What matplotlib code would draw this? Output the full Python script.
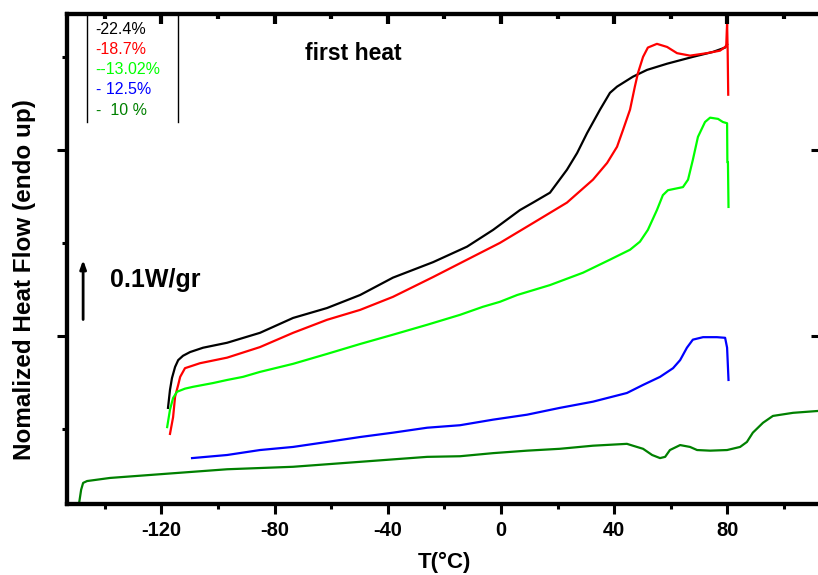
import matplotlib
matplotlib.use('Agg')
import matplotlib.pyplot as plt
import matplotlib.transforms as mtransforms
from matplotlib.ticker import MultipleLocator


# sample labels and line colours (first heat DSC scans)
labels = ['-22.4%', '-18.7%', '--13.02%', '- 12.5%', '-  10 %']
colors = ['black', 'red', '#00ff00', 'blue', 'green']

# temperature (C) / normalized heat flow (W/g, offset)
t_224 = [-117.7, -117.0, -116.3, -115.2, -114.1, -112.4, -109.9, -105.3, -96.8, -85.2,
         -73.5, -61.5, -49.8, -38.2, -24.0, -12.0, -2.8, 6.7, 11.3, 17.3,
         23.3, 26.9, 30.4, 35.0, 38.5, 41.0, 46.6, 51.6, 58.7, 67.8,
         74.9, 79.2, 79.9]
q_224 = [0.184, 0.213, 0.232, 0.250, 0.261, 0.268, 0.274, 0.281, 0.289, 0.305,
         0.329, 0.345, 0.366, 0.394, 0.419, 0.444, 0.471, 0.503, 0.515, 0.531,
         0.568, 0.595, 0.627, 0.665, 0.692, 0.702, 0.718, 0.729, 0.739, 0.750,
         0.758, 0.765, 0.770]

t_187 = [-117.0, -115.9, -115.2, -114.1, -113.4, -111.7, -106.4, -96.8, -85.2, -73.5,
         -61.5, -49.8, -38.2, -24.0, -12.0, -0.4, 11.3, 23.3, 32.5, 37.5,
         41.0, 43.1, 45.6, 47.3, 48.4, 50.2, 51.9, 55.1, 58.7, 62.2,
         66.8, 72.8, 77.4, 79.2, 79.6, 79.9, 80.1, 80.3]
q_187 = [0.142, 0.169, 0.202, 0.221, 0.234, 0.248, 0.256, 0.265, 0.282, 0.305,
         0.326, 0.342, 0.363, 0.395, 0.423, 0.450, 0.482, 0.515, 0.552, 0.579,
         0.605, 0.632, 0.665, 0.702, 0.724, 0.750, 0.765, 0.771, 0.766, 0.756,
         0.752, 0.756, 0.760, 0.766, 0.768, 0.805, 0.760, 0.689]

t_1302 = [-118.0, -117.0, -115.9, -114.5, -111.7, -108.8, -101.8, -96.8, -91.2, -85.2,
          -73.5, -61.5, -49.8, -38.2, -26.1, -14.5, -6.4, -0.4, 5.7, 17.3,
          29.0, 38.5, 45.6, 49.1, 51.9, 55.1, 57.2, 59.0, 64.3, 66.1,
          67.8, 69.6, 72.1, 73.9, 76.7, 78.4, 79.9, 80.0, 80.2, 80.4]
q_1302 = [0.153, 0.181, 0.200, 0.210, 0.215, 0.218, 0.224, 0.229, 0.234, 0.242,
          0.255, 0.271, 0.287, 0.302, 0.318, 0.334, 0.347, 0.355, 0.366, 0.382,
          0.402, 0.423, 0.439, 0.452, 0.471, 0.503, 0.527, 0.535, 0.540, 0.552,
          0.584, 0.621, 0.645, 0.652, 0.650, 0.645, 0.643, 0.580, 0.580, 0.508]

t_125 = [-109.2, -96.8, -85.2, -73.5, -61.5, -49.8, -38.2, -26.1, -14.5, -2.8,
         9.2, 20.8, 32.5, 44.5, 50.2, 56.2, 60.8, 63.3, 65.7, 67.8,
         71.4, 76.3, 79.2, 79.9, 80.4]
q_125 = [0.103, 0.108, 0.116, 0.121, 0.129, 0.137, 0.144, 0.152, 0.156, 0.165,
         0.173, 0.184, 0.194, 0.208, 0.221, 0.234, 0.248, 0.261, 0.281, 0.294,
         0.298, 0.298, 0.297, 0.281, 0.229]

t_10 = [-149.1, -148.4, -147.7, -146.3, -138.2, -120.5, -96.8, -73.5, -49.8, -26.1,
        -14.5, -2.8, 9.2, 20.8, 32.5, 44.5, 46.6, 50.2, 53.4, 56.2,
        58.0, 59.7, 63.3, 66.8, 69.3, 73.9, 79.9, 84.5, 86.9, 89.0,
        92.6, 96.1, 103.2, 112.0, 114.0]
q_10 = [0.031, 0.052, 0.063, 0.066, 0.071, 0.077, 0.085, 0.089, 0.097, 0.105,
        0.106, 0.111, 0.115, 0.118, 0.123, 0.126, 0.123, 0.118, 0.108, 0.103,
        0.105, 0.116, 0.124, 0.121, 0.116, 0.115, 0.116, 0.121, 0.129, 0.144,
        0.160, 0.171, 0.176, 0.179, 0.179]

series = [(t_224, q_224), (t_187, q_187), (t_1302, q_1302), (t_125, q_125), (t_10, q_10)]

x_ticks = [-120, -80, -40, 0, 40, 80]
x_minor = [-140, -100, -60, -20, 20, 60, 100]

plt.rcParams['font.family'] = ['Liberation Sans', 'DejaVu Sans']
plt.rcParams['axes.unicode_minus'] = False

fig = plt.figure(figsize=(8.18, 5.75), dpi=100)
ax = fig.add_axes([0.0819, 0.1235, 0.9218, 0.852])

for (t, q), c in zip(series, colors):
    ax.plot(t, q, color=c, lw=1.6)

xlim = (-153.4, 113.1)
ylim = (0.029, 0.819)
ax.set_xlim(xlim)
ax.set_ylim(ylim)

# bottom / left ticks point outwards
ax.set_xticks(x_ticks)
ax.set_xticks(x_minor, minor=True)
ax.yaxis.set_major_locator(MultipleLocator(0.3))
ax.yaxis.set_minor_locator(MultipleLocator(0.15))
ax.tick_params(axis='both', which='major', length=7, width=2.2, direction='out')
ax.tick_params(axis='both', which='minor', length=3.5, width=2.2, direction='out')
ax.tick_params(axis='y', labelleft=False)
ax.tick_params(axis='x', labelsize=14.5, pad=5)
for label in ax.get_xticklabels():
    label.set_fontweight('bold')

# top / right ticks point inwards, drawn as short segments on the frame
top_tr = mtransforms.blended_transform_factory(ax.transData, ax.transAxes)
ax.vlines(x_ticks, 1.0, 0.979, colors='black', lw=3, transform=top_tr, clip_on=False)
ax.vlines(x_minor, 1.0, 0.989, colors='black', lw=3, transform=top_tr, clip_on=False)

ax_right = ax.twinx()
ax_right.set_ylim(ylim)
ax_right.yaxis.set_major_locator(MultipleLocator(0.3))
ax_right.tick_params(axis='y', which='major', length=7, width=2.2, direction='in',
                     right=True, left=False, labelright=False, labelleft=False)
ax_right.tick_params(axis='y', which='minor', length=0)

for a in (ax, ax_right):
    for s in a.spines.values():
        s.set_linewidth(3)

ax.set_xlabel('T(\u00b0C)', fontsize=16, fontweight='bold', labelpad=9)
ax.set_ylabel('Nomalized Heat Flow (endo up)', fontsize=17.5, fontweight='bold')
ax.yaxis.set_label_coords(-0.041, 0.459)

# legend box (only the side borders are drawn)
for xb in (0.0265, 0.147):
    ax.plot([xb, xb], [0.78, 1.0], color='black', lw=1, transform=ax.transAxes, clip_on=False)
for i, (lab, c) in enumerate(zip(labels, colors)):
    ax.text(0.038, 0.969 - i * 0.0413, lab, color=c, fontsize=11.5,
            ha='left', va='center', transform=ax.transAxes)

ax.text(-52.3, 0.756, 'first heat', fontsize=16.5, fontweight='bold', ha='center', va='center')

# scale bar
ax.annotate('', xy=(-147.7, 0.427), xytext=(-147.7, 0.322),
            arrowprops=dict(arrowstyle='-|>,head_length=0.5,head_width=0.18', lw=2, color='black'))
ax.text(-138.3, 0.390, '0.1W/gr', fontsize=18, fontweight='bold', ha='left', va='center')

fig.savefig('out.png', dpi=100)
